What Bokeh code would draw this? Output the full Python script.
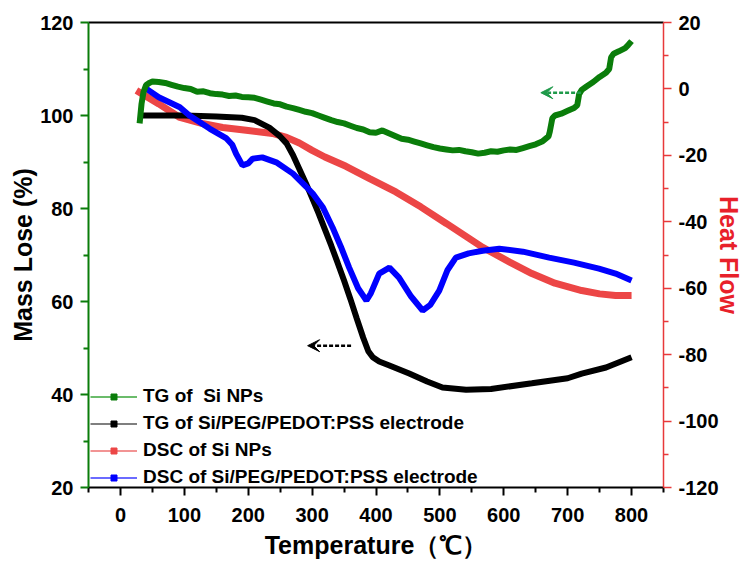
import math
from bokeh.plotting import figure
from bokeh.models import (Range1d, LinearAxis, FixedTicker, Legend, LegendItem,
                          Arrow, VeeHead)
from bokeh.embed import file_html
from bokeh.resources import INLINE

# ---------------- data ----------------
tg_si_x = [30, 33, 36, 40, 45, 50, 60, 70, 80, 90, 100, 110, 120, 130, 140, 150, 160, 170,
           180, 190, 200, 210, 220, 230, 240, 250, 260, 270, 280, 290, 300, 310, 320, 330,
           340, 350, 360, 370, 380, 390, 400, 410, 420, 430, 440, 450, 460, 470, 480, 490,
           500, 510, 520, 530, 540, 550, 560, 570, 580, 590, 600, 610, 620, 630, 640, 650,
           660, 670, 672, 676, 680, 690, 700, 710, 715, 718, 722, 730, 740, 750, 760, 765,
           768, 772, 780, 790, 795, 800]
tg_si_y = [98.3, 102.5, 105.0, 106.5, 107.0, 107.3, 107.2, 107.0, 106.6, 106.2, 105.9, 105.7,
           105.1, 105.2, 104.8, 104.6, 104.5, 104.2, 104.3, 104.0, 103.9, 103.8, 103.4, 103.0,
           102.6, 102.4, 101.9, 101.6, 101.2, 100.8, 100.5, 100.0, 99.5, 99.0, 98.6, 98.3,
           97.8, 97.3, 97.0, 96.4, 96.3, 96.8, 96.2, 95.6, 95.0, 94.8, 94.4, 94.0, 93.6, 93.2,
           92.9, 92.7, 92.5, 92.6, 92.3, 92.1, 91.8, 92.0, 92.3, 92.2, 92.5, 92.7, 92.6, 93.0,
           93.4, 93.8, 94.4, 95.5, 96.5, 99.4, 100.0, 100.4, 101.0, 101.6, 102.2, 104.6, 105.5,
           106.3, 107.2, 108.3, 109.2, 110.0, 112.5, 113.3, 113.8, 114.5, 115.2, 116.0]

tg_el_x = [35, 60, 100, 150, 190, 210, 233, 250, 260, 270, 280, 290, 300, 310, 320, 330, 340,
           350, 360, 370, 380, 388, 395, 405, 420, 452, 480, 504, 541, 580, 644, 700, 722, 760,
           800]
tg_el_y = [100.0, 100.0, 100.0, 99.8, 99.5, 99.0, 97.4, 95.5, 94.0, 91.5, 88.5, 85.5, 82.3,
           79.0, 75.5, 72.0, 68.3, 64.5, 60.5, 56.3, 52.2, 49.3, 48.0, 47.1, 46.3, 44.5, 42.8,
           41.5, 41.0, 41.2, 42.4, 43.5, 44.5, 45.8, 48.0]

dsc_si_x = [25, 60, 93, 130, 160, 200, 238, 260, 280, 300, 320, 353, 390, 431, 470, 510, 567,
            610, 644, 680, 722, 750, 775, 800]
dsc_si_y = [-0.5, -4.5, -8.6, -10.5, -11.6, -12.5, -13.4, -14.6, -16.3, -18.5, -20.5, -23.3,
            -27.0, -31.0, -35.5, -40.5, -47.7, -52.2, -55.6, -58.5, -60.7, -61.7, -62.2, -62.2]

dsc_el_x = [38, 60, 93, 108, 140, 166, 175, 181, 191, 200, 207, 222, 245, 270, 290, 301, 317,
            332, 345, 358, 372, 385, 392, 405, 421, 436, 455, 473, 485, 499, 512, 525, 545, 567,
            593, 630, 671, 710, 749, 775, 800]
dsc_el_y = [0.4, -2.5, -5.5, -8.0, -12.0, -14.9, -16.8, -19.5, -23.0, -22.4, -21.0, -20.6,
            -22.2, -25.5, -29.3, -31.5, -35.7, -41.7, -47.5, -53.8, -60.0, -63.7, -61.5, -55.6,
            -53.8, -56.8, -62.5, -66.7, -65.0, -60.7, -54.5, -50.8, -49.5, -48.7, -48.1, -49.0,
            -50.8, -52.3, -54.1, -55.6, -57.7]

labels = ["TG of  Si NPs", "TG of Si/PEG/PEDOT:PSS electrode",
          "DSC of Si NPs", "DSC of Si/PEG/PEDOT:PSS electrode"]
x_ticks = [0, 100, 200, 300, 400, 500, 600, 700, 800]
x_minor = [-50, 50, 150, 250, 350, 450, 550, 650, 750, 850]
left_ticks = [20, 40, 60, 80, 100, 120]
left_minor = [30, 50, 70, 90, 110]
right_ticks = [-120, -100, -80, -60, -40, -20, 0, 20]
right_minor = [-110, -90, -70, -50, -30, -10, 10]

# ---------------- styles ----------------
GREEN = "#0a7d0a"
BLACK = "#000000"
RED = "#ec4646"
BLUE = "#0000ff"
AXRED = "#e8393a"
FONT = "Liberation Sans"

p = figure(width=745, height=563, x_range=Range1d(-50, 850), y_range=Range1d(20, 120),
           output_backend="svg", toolbar_location=None,
           min_border_left=88, min_border_right=81, min_border_top=22, min_border_bottom=76)
p.extra_y_ranges = {"hf": Range1d(-120, 20)}
p.grid.visible = False
p.outline_line_color = None
p.background_fill_color = "white"


def style_axis(ax, color, ticks, minor):
    ax.ticker = FixedTicker(ticks=ticks, minor_ticks=minor)
    ax.axis_line_color = color
    ax.major_tick_line_color = color
    ax.minor_tick_line_color = color
    ax.axis_line_width = 2
    ax.major_tick_line_width = 2
    ax.minor_tick_line_width = 2
    ax.major_tick_in = 0
    ax.major_tick_out = 8
    ax.minor_tick_in = 0
    ax.minor_tick_out = 5
    ax.major_label_text_font = FONT
    ax.major_label_text_font_style = "bold"
    ax.major_label_text_font_size = "20px"
    ax.major_label_text_color = "black"
    ax.major_label_overrides = {t: str(t) for t in ticks}
    ax.axis_label_text_font = FONT
    ax.axis_label_text_font_style = "bold"
    ax.axis_label_text_font_size = "25px"


xa = p.xaxis[0]
style_axis(xa, BLACK, x_ticks, x_minor)
xa.major_label_standoff = 12
xa.axis_label = "Temperature（℃）"
xa.axis_label_standoff = 6
xa.axis_label_text_color = "black"

ya = p.yaxis[0]
style_axis(ya, GREEN, left_ticks, left_minor)
ya.major_label_standoff = 7
ya.axis_label = "Mass Lose (%)"
ya.axis_label_standoff = 0
ya.axis_label_text_color = "black"

ra = LinearAxis(y_range_name="hf")
style_axis(ra, AXRED, right_ticks, right_minor)
ra.axis_line_width = 1.5
ra.major_tick_line_width = 1.5
ra.minor_tick_line_width = 1.5
ra.major_label_standoff = 7
ra.axis_label = "Heat Flow"
ra.axis_label_standoff = -7
ra.axis_label_text_color = "#e8202a"
p.add_layout(ra, "right")

ta = LinearAxis(ticker=FixedTicker(ticks=[]), axis_line_color="black", axis_line_width=2,
                major_tick_line_color=None, minor_tick_line_color=None)
p.add_layout(ta, "above")

# ---------------- curves ----------------
p.line(dsc_si_x, dsc_si_y, y_range_name="hf", line_color=RED, line_width=7)
p.line(tg_el_x, tg_el_y, line_color=BLACK, line_width=6)
p.line(dsc_el_x, dsc_el_y, y_range_name="hf", line_color=BLUE, line_width=6)
p.line(tg_si_x, tg_si_y, line_color=GREEN, line_width=6)

# ---------------- arrows ----------------
p.add_layout(Arrow(x_start=721, y_start=104.9, x_end=658, y_end=104.9,
                   line_color="#1f9a4a", line_width=2.5, line_dash="4 2",
                   end=VeeHead(size=12, fill_color="#1f9a4a", line_color="#1f9a4a")))
p.add_layout(Arrow(x_start=361, y_start=50.5, x_end=293, y_end=50.5,
                   line_color=BLACK, line_width=2.5, line_dash="4 2",
                   end=VeeHead(size=12, fill_color=BLACK, line_color=BLACK)))

# ---------------- legend ----------------
items = []
leg_colors = [GREEN, BLACK, RED, BLUE]
leg_line_colors = ["#3aa63a", "#555555", "#ee7070", "#3a3aff"]
for lab, c, lc in zip(labels, leg_colors, leg_line_colors):
    lr = p.line([-1000, -999], [-1000, -999], line_color=lc, line_width=1.5)
    sr = p.scatter([-1000], [-1000], marker="square", size=5, fill_color=c, line_color=c)
    items.append(LegendItem(label=lab, renderers=[lr, sr]))
leg = Legend(items=items, location=(2, -1), padding=0, margin=0, spacing=5,
             glyph_width=47, glyph_height=15, label_height=20, label_standoff=6,
             label_text_font=FONT, label_text_font_style="bold",
             label_text_font_size="19px", label_text_color="black",
             background_fill_alpha=0, border_line_color=None)
p.add_layout(leg, "center")

open("out.html", "w").write(file_html(p, INLINE))
